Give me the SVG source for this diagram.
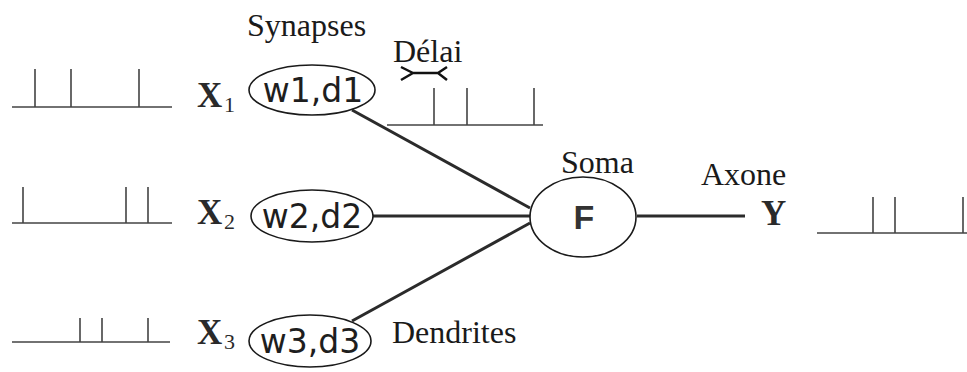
<svg xmlns="http://www.w3.org/2000/svg" width="967" height="372" viewBox="0 0 967 372">
  <style>
    .lbl { font-family: "Liberation Serif", "Times New Roman", serif; font-size: 32px; fill: #1a1a1a; }
    .var { font-family: "Liberation Serif", "Times New Roman", serif; font-size: 35px; font-weight: bold; fill: #2a2a2a; }
    .sub { font-family: "Liberation Serif", "Times New Roman", serif; font-size: 22px; fill: #2a2a2a; }
    .syn { font-family: "DejaVu Sans", "Liberation Sans", sans-serif; font-size: 33px; fill: #1e1e1e; text-anchor: middle; }
    .soma-t { font-family: "Liberation Sans", Arial, sans-serif; font-size: 34px; font-weight: bold; fill: #333; text-anchor: middle; }
    .cell { fill: none; stroke: #1a1a1a; stroke-width: 1.6; }
    .wire { stroke: #2b2b2b; stroke-width: 3; stroke-linecap: butt; fill: none; }
    .spikes { fill: none; stroke: #444; stroke-width: 1.6; }
  </style>

  <!-- input spike trains -->
  <g id="train-x1"><path class="spikes" d="M12 107 H172 M35 107 V69 M71 107 V69 M139 107 V69"/></g>
  <g id="train-x2"><path class="spikes" d="M12 223 H172 M23 223 V187 M126 223 V187 M148 223 V187"/></g>
  <g id="train-x3"><path class="spikes" d="M12 342 H170 M80 342 V318 M102 342 V318 M148 342 V318"/></g>

  <!-- delayed train after synapse 1 -->
  <g id="train-delayed"><path class="spikes" d="M387 125 H543 M434 125 V88 M467 125 V88 M534 125 V88"/></g>

  <!-- output train -->
  <g id="train-y"><path class="spikes" d="M817 233 H967 M873 233 V197 M895 233 V197 M963 233 V197"/></g>

  <!-- connectors: dendrites and axon -->
  <g id="connectors">
    <line class="wire" x1="352" y1="110" x2="530" y2="208"/>
    <line class="wire" x1="373" y1="216" x2="530" y2="216"/>
    <line class="wire" x1="352" y1="321" x2="530" y2="223"/>
    <line class="wire" x1="637" y1="216" x2="745" y2="216"/>
  </g>

  <!-- input labels -->
  <g id="x1"><text class="var" x="197" y="107">X</text><text class="sub" x="224" y="112">1</text></g>
  <g id="x2"><text class="var" x="197" y="224">X</text><text class="sub" x="224" y="229">2</text></g>
  <g id="x3"><text class="var" x="197" y="344">X</text><text class="sub" x="224" y="349">3</text></g>

  <!-- synapses -->
  <g id="syn1"><ellipse class="cell" cx="312" cy="90" rx="63" ry="25"/><text class="syn" x="313" y="102">w1,d1</text></g>
  <g id="syn2"><ellipse class="cell" cx="312" cy="216" rx="61" ry="26"/><text class="syn" x="312" y="228">w2,d2</text></g>
  <g id="syn3"><ellipse class="cell" cx="310" cy="341" rx="61" ry="26"/><text class="syn" x="310" y="353">w3,d3</text></g>

  <!-- soma -->
  <g id="soma"><ellipse class="cell" cx="583" cy="217" rx="53" ry="40"/><text class="soma-t" x="584" y="229">F</text></g>

  <!-- output -->
  <g id="y"><text class="var" x="761" y="225" font-size="36">Y</text></g>

  <!-- delay marker -->
  <g id="delay-marker">
    <path d="M401 67 L413 73 L401 80 M413 73 H438 M447 67 L438 73 L447 80" fill="none" stroke="#111" stroke-width="2.5" stroke-linejoin="round"/>
  </g>

  <!-- captions -->
  <g id="captions">
    <text class="lbl" x="247" y="36">Synapses</text>
    <text class="lbl" x="393" y="62" font-size="29">Délai</text>
    <text class="lbl" x="561" y="173">Soma</text>
    <text class="lbl" x="701" y="185" font-size="34">Axone</text>
    <text class="lbl" x="392" y="343" font-size="30">Dendrites</text>
  </g>
</svg>
